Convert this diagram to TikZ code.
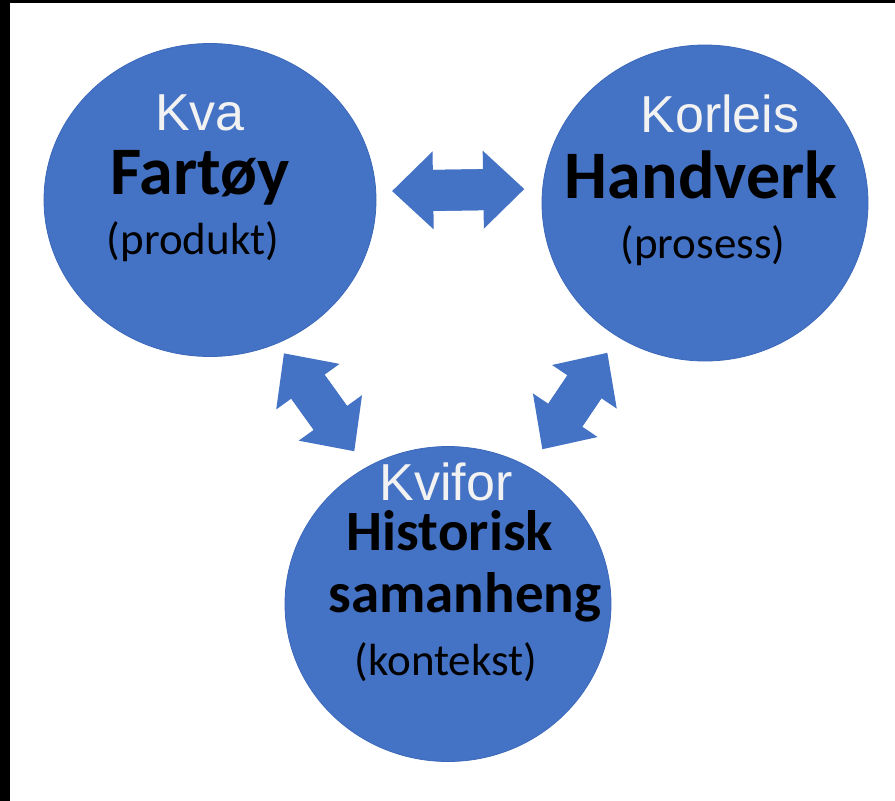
\documentclass[tikz,border=0pt]{standalone}
\usepackage{fontspec}
\usetikzlibrary{shapes.geometric,arrows.meta}
\newfontfamily\arialfont{Liberation Sans}
\newfontfamily\calibrifont{Carlito}
\definecolor{circblue}{RGB}{68,114,196}
\definecolor{circedge}{RGB}{60,104,186}
\definecolor{softwhite}{RGB}{242,242,242}
\tikzset{
  circ/.style={ellipse,fill=circblue,draw=circedge,line width=0.8pt,inner sep=0pt},
  toptext/.style={anchor=base,inner sep=0pt,text=softwhite,font=\arialfont\fontsize{52}{52}\selectfont},
  boldtext/.style={anchor=base,inner sep=0pt,font=\calibrifont\bfseries\fontsize{#1}{#1}\selectfont},
  boldtext/.default=68,
  subtext/.style={anchor=base,inner sep=0pt,font=\calibrifont\fontsize{45}{45}\selectfont},
  % block arrow, #1 and #2 = gap to the circles
  blockarrow/.style 2 args={line width=41pt,circblue,shorten <=#1,shorten >=#2,
    {Triangle[width=78pt,length=41pt,line width=0pt]}-{Triangle[width=78pt,length=41pt,line width=0pt]},
    postaction={draw,arrows=-,shorten <=#1+37pt,shorten >=#2+37pt}}
}
\begin{document}
\begin{tikzpicture}[x=1pt,y=-1pt]
  \useasboundingbox (0,0) rectangle (895,801);
  \fill[white] (0,0) rectangle (895,801);
  \fill[black] (0,0) rectangle (10,801);
  \fill[black] (0,0) rectangle (895,3);

  % the three circles
  \node[circ,minimum width=332pt,minimum height=313pt] (fartoy) at (210,200) {};
  \node[circ,minimum width=326pt,minimum height=316pt] (handverk) at (705,203) {};
  \node[circ,minimum width=326pt,minimum height=315pt] (historisk) at (448,604) {};

  % two-way arrows
  \draw[blockarrow={16pt}{18pt}] (fartoy.3.8) -- (handverk.175.1);
  \draw[blockarrow={12pt}{20pt}] (fartoy.-65) -- (historisk.121.7);
  \draw[blockarrow={19pt}{22pt}] (handverk.237.3) -- (historisk.59);

  % texts
  \node[toptext] (kva) at (200,130) {Kva};
  \node[boldtext] (fartoytxt) at (200,194) {Fartøy};
  \node[subtext] (produkt) at (193,254) {(produkt)};

  \node[toptext] (korleis) at (720,132) {Korleis};
  \node[boldtext] (handverktxt) at (701,198) {Handverk};
  \node[subtext] (prosess) at (703,258) {(prosess)};

  \node[toptext] (kvifor) at (446,500) {Kvifor};
  \node[boldtext=57] (historisktxt) at (450,550) {Historisk};
  \node[boldtext=57] (samanheng) at (465,612) {samanheng};
  \node[subtext] (kontekst) at (446,675) {(kontekst)};
\end{tikzpicture}
\end{document}
